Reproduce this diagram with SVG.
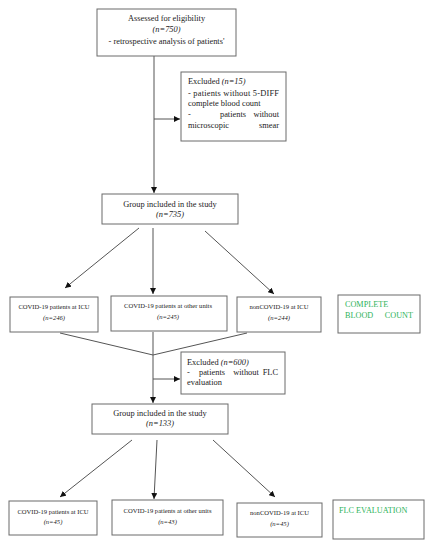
<svg xmlns="http://www.w3.org/2000/svg" width="438" height="550" viewBox="0 0 438 550">
<style>
.box{fill:#fff;stroke:#6a6a6a;stroke-width:1}
.t{font-family:"Liberation Serif","Times New Roman",serif;fill:#222;font-size:8.4px}
.s{font-family:"Liberation Serif","Times New Roman",serif;fill:#222;font-size:6.6px}
.c{text-anchor:middle}
.i{font-style:italic}
.g{font-family:"Liberation Serif","Times New Roman",serif;fill:#2db35a;font-size:8.2px}
.ln{stroke:#555;stroke-width:1;fill:none}
</style>
<defs>
<marker id="ah" markerUnits="userSpaceOnUse" markerWidth="7" markerHeight="6" refX="6" refY="3" orient="auto">
<path d="M0,0 L6,3 L0,6 z" fill="#111"/>
</marker>
</defs>
<rect width="438" height="550" fill="#fff"/>
<g id="connectors">
<line class="ln" x1="154" y1="56" x2="154" y2="193" marker-end="url(#ah)"/>
<line class="ln" x1="154" y1="119" x2="180" y2="119" marker-end="url(#ah)"/>
<line class="ln" x1="139" y1="228" x2="65" y2="288" marker-end="url(#ah)"/>
<line class="ln" x1="153" y1="228" x2="153" y2="294" marker-end="url(#ah)"/>
<line class="ln" x1="205" y1="231" x2="274" y2="294" marker-end="url(#ah)"/>
<polyline class="ln" points="60,333 153,355 247,333"/>
<line class="ln" x1="153" y1="332" x2="153" y2="403" marker-end="url(#ah)"/>
<line class="ln" x1="153" y1="379" x2="180" y2="379" marker-end="url(#ah)"/>
<line class="ln" x1="132" y1="440" x2="60" y2="497" marker-end="url(#ah)"/>
<line class="ln" x1="157" y1="440" x2="154" y2="499" marker-end="url(#ah)"/>
<line class="ln" x1="213" y1="440" x2="275" y2="497" marker-end="url(#ah)"/>
</g>
<g id="assessed">
<rect class="box" x="97" y="9" width="139" height="47"/>
<text class="t c" x="166.5" y="21">Assessed for eligibility</text>
<text class="t c i" x="166.5" y="32">(n=750)</text>
<text class="t c" x="166.5" y="44">- retrospective analysis of patients'</text>
</g>
<g id="excluded1">
<rect class="box" x="181" y="72" width="105" height="69"/>
<text class="t" x="188" y="84">Excluded <tspan class="i">(n=15)</tspan></text>
<text class="t" x="188" y="96" textLength="91" lengthAdjust="spacing">- patients without 5-DIFF</text>
<text class="t" x="188" y="106">complete blood count</text>
<text class="t" x="188" y="117">-</text>
<text class="t c" x="233" y="117">patients</text>
<text class="t" x="279" y="117" text-anchor="end">without</text>
<text class="t" x="188" y="128">microscopic</text>
<text class="t" x="279" y="128" text-anchor="end">smear</text>
</g>
<g id="group1">
<rect class="box" x="102" y="194" width="136" height="30"/>
<text class="t c" x="170" y="207">Group included in the study</text>
<text class="t c i" x="170" y="217">(n=735)</text>
</g>
<g id="icu1">
<rect class="box" x="10" y="297" width="88" height="35"/>
<text class="s c" x="54" y="309">COVID-19 patients at ICU</text>
<text class="s c i" x="54" y="320">(n=246)</text>
</g>
<g id="other1">
<rect class="box" x="111" y="296" width="116" height="35"/>
<text class="s c" x="168" y="308">COVID-19 patients at other units</text>
<text class="s c i" x="168" y="319">(n=245)</text>
</g>
<g id="non1">
<rect class="box" x="237" y="297" width="84" height="35"/>
<text class="s c" x="279" y="309">nonCOVID-19 at ICU</text>
<text class="s c i" x="279" y="320">(n=244)</text>
</g>
<g id="cbc">
<rect class="box" x="338" y="295" width="82" height="38"/>
<text class="g" x="345" y="307">COMPLETE</text>
<text class="g" x="345" y="318">BLOOD</text>
<text class="g" x="413" y="318" text-anchor="end">COUNT</text>
</g>
<g id="excluded2">
<rect class="box" x="181" y="352" width="104" height="42"/>
<text class="t" x="187" y="365">Excluded <tspan class="i">(n=600)</tspan></text>
<text class="t" x="187" y="375">-</text>
<text class="t c" x="212" y="375">patients</text>
<text class="t c" x="246" y="375">without</text>
<text class="t" x="278" y="375" text-anchor="end">FLC</text>
<text class="t" x="187" y="385">evaluation</text>
</g>
<g id="group2">
<rect class="box" x="92" y="404" width="136" height="30"/>
<text class="t c" x="160" y="416">Group included in the study</text>
<text class="t c i" x="160" y="426">(n=133)</text>
</g>
<g id="icu2">
<rect class="box" x="9" y="501" width="88" height="34"/>
<text class="s c" x="53" y="514">COVID-19 patients at ICU</text>
<text class="s c i" x="53" y="524">(n=45)</text>
</g>
<g id="other2">
<rect class="box" x="112" y="500" width="111" height="35"/>
<text class="s c" x="167.5" y="513">COVID-19 patients at other units</text>
<text class="s c i" x="167.5" y="524">(n=43)</text>
</g>
<g id="non2">
<rect class="box" x="237" y="503" width="85" height="34"/>
<text class="s c" x="279.5" y="515">nonCOVID-19 at ICU</text>
<text class="s c i" x="279.5" y="526">(n=45)</text>
</g>
<g id="flc">
<rect class="box" x="333" y="500" width="91" height="39"/>
<text class="g" x="339" y="513">FLC EVALUATION</text>
</g>
</svg>
